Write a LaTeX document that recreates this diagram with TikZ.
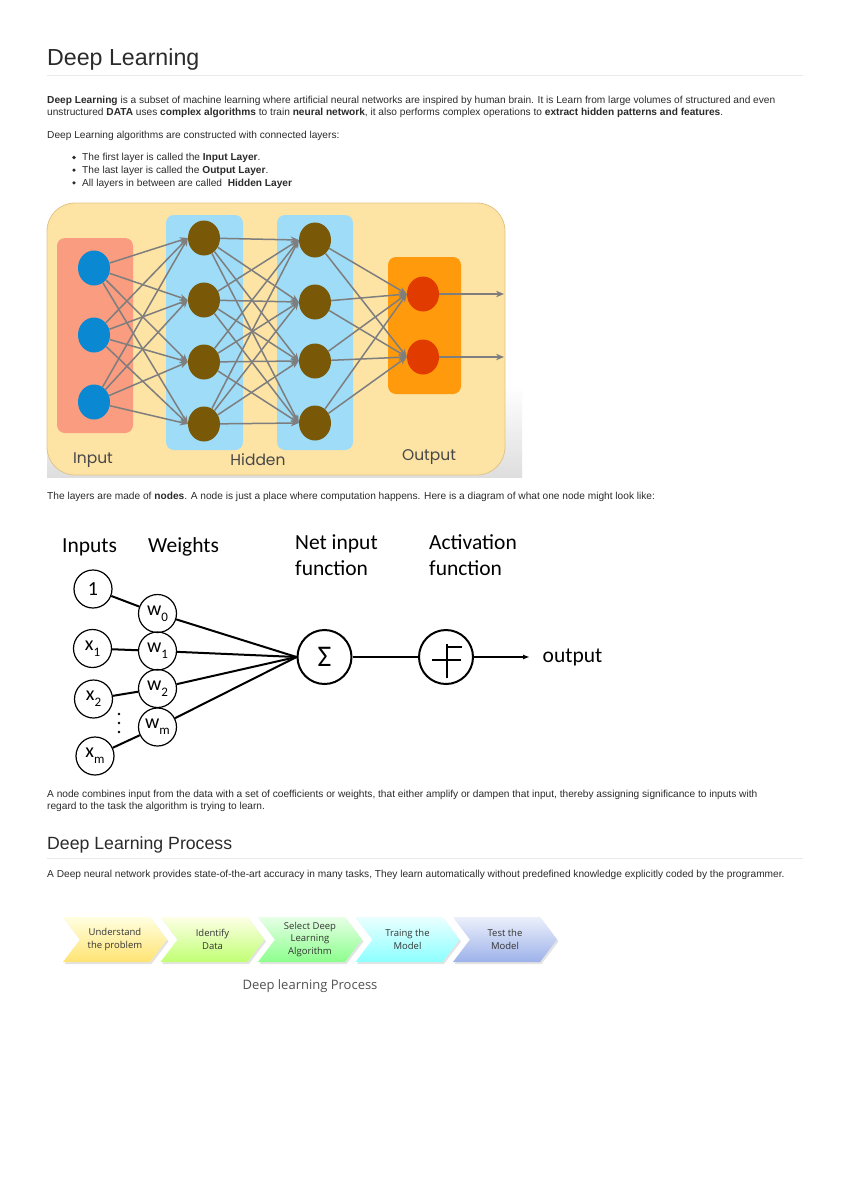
\documentclass[tikz,border=0pt]{standalone}
\usepackage{fontspec}
\setmainfont{Liberation Sans}
\newfontfamily\calfont{Carlito}
\newfontfamily\popfont{Poppins}
\newfontfamily\osfont{Open Sans}
\usepackage{xcolor}
\usepackage{tikz}
\usetikzlibrary{positioning,arrows.meta,shapes.geometric,shapes.symbols,shadows}

\definecolor{bodytext}{HTML}{2B2B2B}
\definecolor{rulegray}{HTML}{E9E9E9}
\definecolor{nnyellow}{HTML}{FDE3A4}
\definecolor{nnyellowdk}{HTML}{E2C488}
\definecolor{inbox}{HTML}{F99C80}
\definecolor{hidbox}{HTML}{9EDCF7}
\definecolor{outbox}{HTML}{FF9A0C}
\definecolor{inblue}{HTML}{0A89D2}
\definecolor{hidbrown}{HTML}{795908}
\definecolor{outred}{HTML}{E23B00}
\definecolor{edgegray}{HTML}{7E7E7E}
\definecolor{testblue}{HTML}{9DB2EA}

\newcommand\sbs[1]{\raisebox{-0.32em}{\fontsize{13}{13}\selectfont #1}}

\begin{document}
\begin{tikzpicture}[x=1pt,y=-1pt,
    every node/.style={inner sep=0pt},
    line/.style={anchor=base west,font=\fontsize{10.15}{11}\selectfont,text=bodytext},
    heading/.style={anchor=base west,text=bodytext},
    neuron/.style={ellipse,minimum width=32pt,minimum height=35pt},
    nnedge/.style={draw=edgegray,line width=1.5pt,-{Stealth[length=8pt,width=6.5pt]}},
    nnlabel/.style={font=\popfont\fontsize{15.5}{16}\selectfont,text=black!72},
    unit/.style={circle,draw,line width=1.2pt,minimum size=38pt,font=\calfont\fontsize{20}{20}\selectfont},
    bigunit/.style={circle,draw,line width=2pt,minimum size=54pt},
    diaglabel/.style={anchor=base west,font=\calfont\fontsize{21.5}{22}\selectfont},
    chev/.style={shape=signal,signal to=east,signal from=west,signal pointer angle=106,
      minimum width=104pt,minimum height=45pt,align=center,text=black!80,
      font=\osfont\fontsize{9.5}{12.6}\selectfont,
      drop shadow={shadow xshift=1.5pt,shadow yshift=-2pt,opacity=0.22}}]
  \useasboundingbox (0,0) rectangle (850,1203);
  \fill[white] (0,0) rectangle (850,1203);

  % header and intro
  \node[heading,font=\fontsize{23.2}{24}\selectfont] (title) at (47,65) {Deep Learning};
  \draw[rulegray,line width=0.9pt] (47,75.5) -- (803,75.5);
  \node[line] (p1a) at (47,103) {\textbf{Deep Learning} is a subset of machine learning where artificial neural networks are inspired by human brain. It is Learn from large volumes of structured and even};
  \node[line] (p1b) at (47,115) {unstructured \textbf{DATA} uses \textbf{complex algorithms} to train \textbf{neural network}, it also performs complex operations to \textbf{extract hidden patterns and features}.};
  \node[line] (p2) at (47,138.3) {Deep Learning algorithms are constructed with connected layers:};
  \foreach \y/\t [count=\i] in {160.7/{The first layer is called the \textbf{Input Layer}.},
      173.3/{The last layer is called the \textbf{Output Layer}.},
      186/{All layers in between are called \ \textbf{Hidden Layer}}} {
    \fill[bodytext] (74,\y-3.2) circle (1.8);
    \node[line] (b\i) at (82,\y) {\t};
  }

  % layered network
  \shade[top color=white,bottom color=black!13] (47,385) rectangle (522,477);
  \draw[fill=nnyellow,draw=nnyellowdk,line width=0.8pt,rounded corners=28pt] (47,203) rectangle (505,475);
  \fill[inbox,rounded corners=8pt] (57,238) rectangle (133,433);
  \fill[hidbox,rounded corners=8pt] (166,215) rectangle (243,450);
  \fill[hidbox,rounded corners=8pt] (277,215) rectangle (353,450);
  \fill[outbox,rounded corners=8pt] (388,257) rectangle (461,394);
  \foreach \y [count=\i] in {268,335,402}
    \node[neuron,fill=inblue] (i\i) at (94,\y) {};
  \foreach \y [count=\i] in {238,300,362,424}
    \node[neuron,fill=hidbrown] (h\i) at (204,\y) {};
  \foreach \y [count=\i] in {240,302,361,423}
    \node[neuron,fill=hidbrown] (k\i) at (315,\y) {};
  \foreach \y [count=\i] in {294,357} {
    \node[neuron,fill=outred] (o\i) at (423,\y) {};
    \coordinate (e\i) at (504,\y);
  }
  \foreach \a in {1,2,3}
    \foreach \b in {1,...,4}
      \draw[nnedge] (i\a) -- (h\b.west);
  \foreach \a in {1,...,4}
    \foreach \b in {1,...,4}
      \draw[nnedge] (h\a) -- (k\b.west);
  \foreach \a in {1,...,4}
    \foreach \b in {1,2}
      \draw[nnedge] (k\a) -- (o\b.west);
  \draw[nnedge] (o1) -- (e1);
  \draw[nnedge] (o2) -- (e2);
  \node[nnlabel] (lin) at (93,460) {Input};
  \node[nnlabel] (lhid) at (258,460) {Hidden};
  \node[nnlabel] (lout) at (429,457) {Output};

  \node[line] (p3) at (47,499.5) {The layers are made of \textbf{nodes}. A node is just a place where computation happens. Here is a diagram of what one node might look like:};

  % single node
  \node[diaglabel] (linp) at (62,552) {Inputs};
  \node[diaglabel] (lwts) at (148,552) {Weights};
  \node[diaglabel] (lnet) at (295,549) {Net input};
  \node[diaglabel,below=26pt of lnet.base west,anchor=base west] (lnet2) {function};
  \node[diaglabel] (lact) at (429,549) {Activation};
  \node[diaglabel,below=26pt of lact.base west,anchor=base west] (lact2) {function};

  \node[unit] (one) at (93,589) {1};
  \node[unit] (x1) at (92.5,648.5) {x\sbs{1}};
  \node[unit] (x2) at (93.5,699) {x\sbs{2}};
  \node[unit] (xm) at (95,756) {x\sbs{m}};
  \node[unit] (w0) at (157.5,613.5) {w\sbs{0}};
  \node[unit] (w1) at (157.5,651) {w\sbs{1}};
  \node[unit] (w2) at (157.5,688.5) {w\sbs{2}};
  \node[unit] (wm) at (157.5,727) {w\sbs{m}};
  \foreach \y in {714,723,732}
    \fill (119,\y) circle (1.3);
  \node[bigunit,font=\calfont\fontsize{30}{30}\selectfont] (sum) at (324.5,657) {Σ};
  \node[bigunit] (act) at (446,657) {};
  \draw[line width=1.2pt] (447,644) -- (447,678);
  \draw[line width=1.2pt] (447,647) -- (462,647);
  \draw[line width=1.2pt] (432,660) -- (461,660);
  \node[anchor=west,inner xsep=12.5pt,font=\calfont\fontsize{21.5}{22}\selectfont] (outlbl) at (530,657) {output};

  \foreach \a/\b in {one/w0,x1/w1,x2/w2,xm/wm}
    \draw[line width=2pt] (\a) -- (\b);
  \foreach \w in {w0,w1,w2,wm}
    \draw[line width=2pt] (\w) -- (sum.west);
  \draw[line width=2pt] (sum) -- (act);
  \draw[line width=1.6pt,-{Latex[length=7pt,width=5pt]}] (act) -- (outlbl);

  \node[line] (p4a) at (47,797) {A node combines input from the data with a set of coefficients or weights, that either amplify or dampen that input, thereby assigning significance to inputs with};
  \node[line] (p4b) at (47,809) {regard to the task the algorithm is trying to learn.};

  % process
  \node[heading,font=\fontsize{17.7}{18}\selectfont] (title2) at (47,849.3) {Deep Learning Process};
  \draw[rulegray,line width=0.9pt] (47,858.5) -- (803,858.5);
  \node[line] (p5) at (47,877) {A Deep neural network provides state-of-the-art accuracy in many tasks, They learn automatically without predefined knowledge explicitly coded by the programmer.};

  \node[chev,top color=yellow!12,bottom color=yellow!60!orange!55] (s1) at (115,939.5) {Understand\\the problem};
  \node[chev,top color=green!6!yellow!10,bottom color=green!45!yellow!55] (s2) at (212.5,939.5) {Identify\\Data};
  \node[chev,top color=green!10,bottom color=green!45] (s3) at (310,939.5) {Select Deep\\Learning\\Algorithm};
  \node[chev,top color=cyan!8,bottom color=cyan!45] (s4) at (407.5,939.5) {Traing the\\Model};
  \node[chev,top color=testblue!20,bottom color=testblue] (s5) at (505,939.5) {Test the\\Model};
  \node[font=\osfont\fontsize{13}{14}\selectfont,text=black!68] (pcap) at (310,986) {Deep learning Process};
\end{tikzpicture}
\end{document}
